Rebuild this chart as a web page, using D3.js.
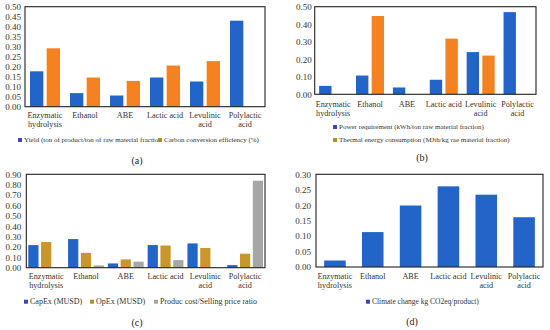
<!DOCTYPE html>
<html><head><meta charset="utf-8">
<script src="https://cdn.jsdelivr.net/npm/d3@7"></script>
<style>
html,body{margin:0;padding:0;background:#fff;}
svg{display:block;font-family:"Liberation Serif","Times New Roman",serif;}
</style></head>
<body>
<svg id="c" width="550" height="330"></svg>
<script>
// ---- data ----
const categories = [["Enzymatic","hydrolysis"],["Ethanol"],["ABE"],["Lactic acid"],["Levulinic","acid"],["Polylactic","acid"]];
const catKeys = ["Enzymatic hydrolysis","Ethanol","ABE","Lactic acid","Levulinic acid","Polylactic acid"];

const yieldVals  = [0.177, 0.068, 0.056, 0.146, 0.126, 0.430];
const carbonVals = [0.292, 0.146, 0.129, 0.206, 0.228, 0];
const ticksA = [0,0.05,0.10,0.15,0.20,0.25,0.30,0.35,0.40,0.45,0.50];

const powerVals   = [0.048, 0.107, 0.039, 0.083, 0.241, 0.469];
const thermalVals = [0, 0.447, 0, 0.318, 0.221, 0];
const ticksB = [0,0.10,0.20,0.30,0.40,0.50];

const capexVals = [0.218, 0.276, 0.041, 0.218, 0.234, 0.025];
const opexVals  = [0.247, 0.143, 0.080, 0.214, 0.190, 0.135];
const ratioVals = [0, 0.022, 0.058, 0.073, 0, 0.838];
const ticksC = [0,0.10,0.20,0.30,0.40,0.50,0.60,0.70,0.80,0.90];

const climateVals = [0.021, 0.113, 0.199, 0.261, 0.234, 0.161];
const ticksD = [0,0.05,0.10,0.15,0.20,0.25,0.30];

const svg = d3.select("#c");
const BLUE="#2364c8", ORANGE="#f58220", GOLD="#c9962b", GRAY="#a6a6a6";

function panel(o){
  const g = svg.append("g");
  const x = d3.scaleBand().domain(catKeys).range([o.x0,o.x1]).paddingInner(o.pad).paddingOuter(o.pad/2);
  const sub = d3.scaleBand().domain(o.series.map((s,i)=>i)).range([0,x.bandwidth()]).paddingInner(o.subPad);
  const y = d3.scaleLinear().domain([0,o.max]).range([o.y1,o.y0]);
  o.series.forEach((s,si)=>{
    g.selectAll(null).data(s.values).enter().append("rect")
      .attr("x",(d,i)=>x(catKeys[i])+sub(si))
      .attr("width",sub.bandwidth())
      .attr("y",d=>y(d))
      .attr("height",d=>y(0)-y(d))
      .attr("fill",s.color);
  });
  const ax = d3.axisLeft(y).tickValues(o.ticks).tickFormat(d3.format(".2f")).tickSize(0).tickPadding(o.tickPad);
  const axg = g.append("g").attr("transform",`translate(${o.x0},0)`).call(ax);
  axg.select(".domain").remove();
  axg.selectAll("text").attr("font-family","Liberation Serif").attr("font-size",9).attr("fill","#333");
  g.append("rect").attr("x",o.x0).attr("y",o.y0).attr("width",o.x1-o.x0).attr("height",o.y1-o.y0)
    .attr("fill","none").attr("stroke","#222").attr("stroke-width",1.1);
  categories.forEach((lines,i)=>{
    const cx = x(catKeys[i]) + x.bandwidth()/2;
    lines.forEach((t,li)=>{
      g.append("text").attr("x",cx).attr("y",o.catY+li*9.3).attr("text-anchor","middle")
        .attr("dominant-baseline","central").attr("font-size",8.2).attr("fill","#333").text(t);
    });
  });
  o.legend.forEach(l=>{
    g.append("rect").attr("x",l.x).attr("y",l.y-2).attr("width",4).attr("height",4).attr("fill",l.mc);
    g.append("text").attr("x",l.x+6).attr("y",l.y).attr("dominant-baseline","central")
      .attr("font-size",l.fs).attr("fill","#333").text(l.t);
  });
  g.append("text").attr("x",o.lab[0]).attr("y",o.lab[1]).attr("text-anchor","middle").attr("dominant-baseline","central")
    .attr("font-size",10).attr("fill","#222").text(o.lab[2]);
}

panel({x0:25,x1:265,y0:6.7,y1:106.7,max:0.5,ticks:ticksA,pad:0.25,subPad:0.2,tickPad:4,
  series:[{values:yieldVals,color:BLUE},{values:carbonVals,color:ORANGE}],
  catY:115,
  legend:[{x:18,y:140,mc:"#3b46b5",fs:7,t:"Yield (ton of product/ton of raw material fraction"},
          {x:158,y:140,mc:"#a8902a",fs:7,t:"Carbon conversion efficiency (%)"}],
  lab:[137,160,"(a)"]});

panel({x0:314.7,x1:536,y0:6.7,y1:94.3,max:0.5,ticks:ticksB,pad:0.24,subPad:0.21,tickPad:3,
  series:[{values:powerVals,color:BLUE},{values:thermalVals,color:ORANGE}],
  catY:104,
  legend:[{x:333,y:127,mc:"#3b46b5",fs:7,t:"Power requirement (kWh/ton raw material fraction)"},
          {x:333,y:140,mc:"#a8902a",fs:7,t:"Thermal energy consumption (MJth/kg rae material fraction)"}],
  lab:[422,157,"(b)"]});

panel({x0:26.3,x1:265,y0:174.3,y1:267.7,max:0.9,ticks:ticksC,pad:0.1,subPad:0.2,tickPad:5,
  series:[{values:capexVals,color:BLUE},{values:opexVals,color:GOLD},{values:ratioVals,color:GRAY}],
  catY:276,
  legend:[{x:24,y:301.7,mc:"#3b46b5",fs:8,t:"CapEx (MUSD)"},
          {x:90,y:301.7,mc:"#a8902a",fs:8,t:"OpEx (MUSD)"},
          {x:154,y:301.7,mc:GRAY,fs:8,t:"Produc cost/Selling price ratio"}],
  lab:[137,322,"(c)"]});

panel({x0:316,x1:543,y0:174.3,y1:267,max:0.3,ticks:ticksD,pad:0.43,subPad:0,tickPad:5,
  series:[{values:climateVals,color:BLUE}],
  catY:276,
  legend:[{x:366,y:301.7,mc:"#3b46b5",fs:7.5,t:"Climate change kg CO2eq/product)"}],
  lab:[412,321,"(d)"]});
</script>
</body></html>
